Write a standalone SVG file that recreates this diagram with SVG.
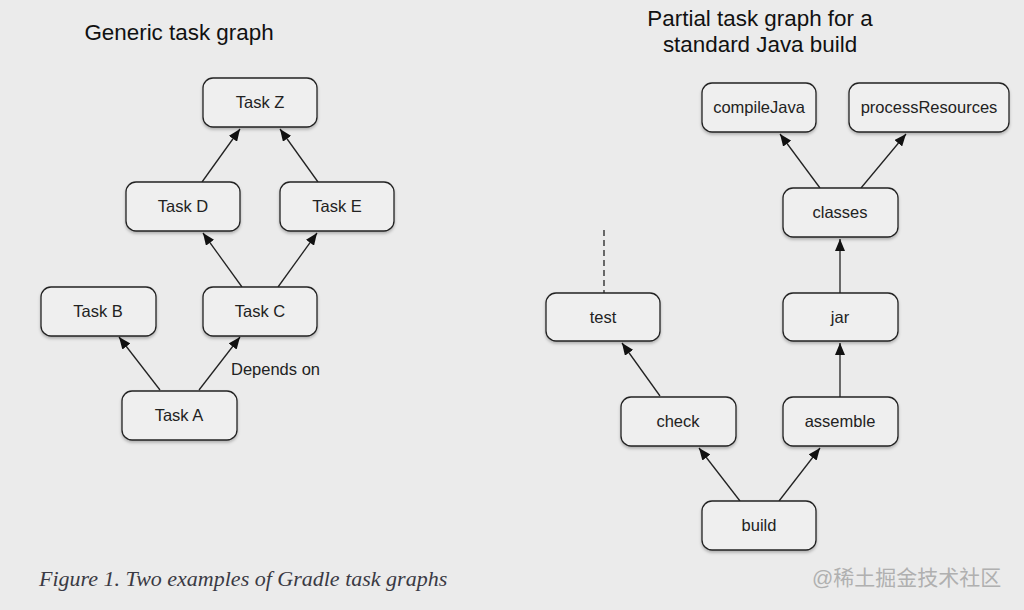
<svg xmlns="http://www.w3.org/2000/svg" width="1024" height="610" viewBox="0 0 1024 610">
<defs>
<marker id="arr" viewBox="0 0 12 10" refX="12" refY="5" markerWidth="12" markerHeight="10" markerUnits="userSpaceOnUse" orient="auto">
<path d="M0,0 L12,5 L0,10 z" fill="#111"/>
</marker>
<filter id="sh" x="-10%" y="-10%" width="130%" height="140%">
<feDropShadow dx="0" dy="2" stdDeviation="1.5" flood-color="#000" flood-opacity="0.25"/>
</filter>
<style>
.box{fill:#efefef;stroke:#222;stroke-width:1.3;filter:url(#sh)}
.lbl{font-family:"Liberation Sans",Arial,sans-serif;font-size:16.5px;fill:#222;text-anchor:middle}
.title{font-family:"Liberation Sans",Arial,sans-serif;font-size:22.4px;fill:#111;text-anchor:middle}
.edge{stroke:#222;stroke-width:1.3;fill:none;marker-end:url(#arr)}
</style>
</defs>
<rect width="1024" height="610" fill="#ebebeb"/>

<text class="title" x="179" y="40">Generic task graph</text>
<text class="title" x="760" y="26">Partial task graph for a</text>
<text class="title" x="760" y="52">standard Java build</text>

<g id="connectors">
<line class="edge" x1="202" y1="182" x2="240" y2="129"/>
<line class="edge" x1="318" y1="182" x2="280" y2="129"/>
<line class="edge" x1="242" y1="287" x2="203" y2="233"/>
<line class="edge" x1="278" y1="287" x2="317" y2="233"/>
<line class="edge" x1="160" y1="390" x2="119" y2="337"/>
<line class="edge" x1="199" y1="390" x2="240" y2="337"/>
<line class="edge" x1="820" y1="188" x2="780" y2="134"/>
<line class="edge" x1="861" y1="188" x2="906" y2="134"/>
<line class="edge" x1="840" y1="293" x2="840" y2="239"/>
<line x1="604" y1="230" x2="604" y2="293" stroke="#222" stroke-width="1.3" stroke-dasharray="6,4"/>
<line class="edge" x1="660" y1="396" x2="622" y2="343"/>
<line class="edge" x1="840" y1="397" x2="840" y2="343"/>
<line class="edge" x1="740" y1="501" x2="699" y2="448"/>
<line class="edge" x1="779" y1="501" x2="820" y2="448"/>
<text class="lbl" x="231" y="375" style="text-anchor:start">Depends on</text>
</g>

<g id="taskZ"><rect class="box" x="203" y="78" width="114" height="49" rx="10"/><text class="lbl" x="260" y="108">Task Z</text></g>
<g id="taskD"><rect class="box" x="126" y="182" width="114" height="49" rx="10"/><text class="lbl" x="183" y="212">Task D</text></g>
<g id="taskE"><rect class="box" x="280" y="182" width="114" height="49" rx="10"/><text class="lbl" x="337" y="212">Task E</text></g>
<g id="taskB"><rect class="box" x="41" y="287" width="115" height="49" rx="10"/><text class="lbl" x="98" y="317">Task B</text></g>
<g id="taskC"><rect class="box" x="203" y="287" width="114" height="49" rx="10"/><text class="lbl" x="260" y="317">Task C</text></g>
<g id="taskA"><rect class="box" x="122" y="391" width="115" height="49" rx="10"/><text class="lbl" x="179" y="421">Task A</text></g>

<g id="compileJava"><rect class="box" x="702" y="83" width="114" height="49" rx="10"/><text class="lbl" x="759" y="113">compileJava</text></g>
<g id="processResources"><rect class="box" x="849" y="83" width="160" height="49" rx="10"/><text class="lbl" x="929" y="113">processResources</text></g>
<g id="classes"><rect class="box" x="783" y="188" width="115" height="49" rx="10"/><text class="lbl" x="840" y="218">classes</text></g>
<g id="test"><rect class="box" x="546" y="293" width="114" height="48" rx="10"/><text class="lbl" x="603" y="323">test</text></g>
<g id="jar"><rect class="box" x="783" y="293" width="115" height="48" rx="10"/><text class="lbl" x="840" y="323">jar</text></g>
<g id="check"><rect class="box" x="621" y="397" width="115" height="49" rx="10"/><text class="lbl" x="678" y="427">check</text></g>
<g id="assemble"><rect class="box" x="783" y="397" width="115" height="49" rx="10"/><text class="lbl" x="840" y="427">assemble</text></g>
<g id="build"><rect class="box" x="702" y="501" width="114" height="49" rx="10"/><text class="lbl" x="759" y="531">build</text></g>

<text x="39" y="586" font-family="'Liberation Serif','Times New Roman',serif" font-style="italic" font-size="22" fill="#3a3a44">Figure 1. Two examples of Gradle task graphs</text>
<text x="812" y="585" font-family="'Liberation Sans','Noto Sans CJK SC',sans-serif" font-size="21" fill="#b0b0b0">@稀土掘金技术社区</text>
</svg>
